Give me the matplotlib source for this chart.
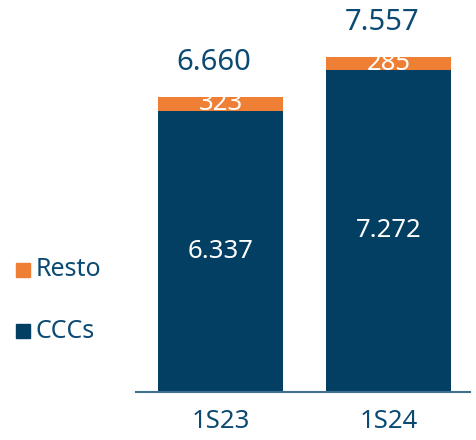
import matplotlib

matplotlib.use("Agg")
import matplotlib.pyplot as plt
from matplotlib.patches import Rectangle

periods = ["1S23", "1S24"]
cccs = [6337, 7272]
resto = [323, 285]
totals = [6660, 7557]

NAVY = "#033f63"
ORANGE = "#ee7f35"
TEXT = "#0b4a72"


def fmt(v):
    return f"{v:,}".replace(",", ".")


plt.rcParams["font.family"] = ["Noto Sans", "DejaVu Sans"]

W, H = 477, 440
fig = plt.figure(figsize=(W / 100, H / 100), dpi=100)
ax = fig.add_axes([136 / W, 48 / H, 334 / W, 372 / H])

x = [0, 1]
ax.bar(x, cccs, width=0.744, color=NAVY)
ax.bar(x, resto, width=0.744, bottom=cccs, color=ORANGE)

for xi, c, r, t in zip(x, cccs, resto, totals):
    ax.text(xi, c / 2, fmt(c), ha="center", va="center", color="white", fontsize=18.5)
    ax.text(xi, c + r / 2, fmt(r), ha="center", va="center", color="white", fontsize=18.5)
    ax.text(xi - 0.04, t + 780, fmt(t), ha="center", va="center", color=TEXT, fontsize=21)

ax.set_xlim(-0.503, 1.485)
ax.set_ylim(0, 8392)
ax.set_xticks(x)
ax.set_xticklabels(periods, fontsize=18.5, color=TEXT)
ax.tick_params(axis="x", length=0, pad=12)
ax.set_yticks([])
for s in ["top", "right", "left"]:
    ax.spines[s].set_visible(False)
ax.spines["bottom"].set_color("#3d6f90")
ax.spines["bottom"].set_linewidth(1.5)

# legend drawn by hand on the left
for label, col, yc in [("Resto", ORANGE, 270), ("CCCs", NAVY, 331)]:
    fig.patches.append(Rectangle((16 / W, (H - yc - 7) / H), 14 / W, 14 / H,
                                 transform=fig.transFigure, color=col))
    fig.text(36 / W, (H - yc) / H, label, ha="left", va="center", color=TEXT, fontsize=18)

fig.savefig("out.png", dpi=100)
